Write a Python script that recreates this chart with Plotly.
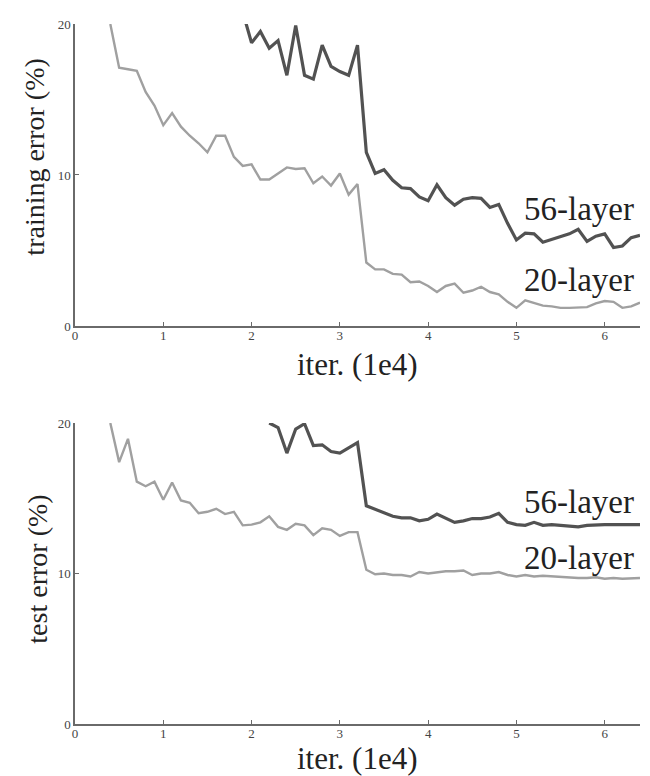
import plotly.graph_objects as go

# ---------------- data ----------------
# iterations (x 1e4)
iters_20 = [0.4, 0.5, 0.6, 0.7, 0.8, 0.9, 1.0, 1.1, 1.2, 1.3, 1.4, 1.5, 1.6, 1.7, 1.8, 1.9,
            2.0, 2.1, 2.2, 2.3, 2.4, 2.5, 2.6, 2.7, 2.8, 2.9, 3.0, 3.1, 3.2, 3.3, 3.4, 3.5,
            3.6, 3.7, 3.8, 3.9, 4.0, 4.1, 4.2, 4.3, 4.4, 4.5, 4.6, 4.7, 4.8, 4.9, 5.0, 5.1,
            5.2, 5.3, 5.4, 5.5, 5.6, 5.7, 5.8, 5.9, 6.0, 6.1, 6.2, 6.3, 6.4]

iters_56_train = [1.9, 2.0, 2.1, 2.2, 2.3, 2.4, 2.5, 2.6, 2.7, 2.8, 2.9, 3.0, 3.1, 3.2, 3.3,
                  3.4, 3.5, 3.6, 3.7, 3.8, 3.9, 4.0, 4.1, 4.2, 4.3, 4.4, 4.5, 4.6, 4.7, 4.8,
                  4.9, 5.0, 5.1, 5.2, 5.3, 5.4, 5.5, 5.6, 5.7, 5.8, 5.9, 6.0, 6.1, 6.2, 6.3, 6.4]

iters_56_test = [2.2, 2.3, 2.4, 2.5, 2.6, 2.7, 2.8, 2.9, 3.0, 3.1, 3.2, 3.3, 3.4, 3.5, 3.6,
                 3.7, 3.8, 3.9, 4.0, 4.1, 4.2, 4.3, 4.4, 4.5, 4.6, 4.7, 4.8, 4.9, 5.0, 5.1,
                 5.2, 5.3, 5.4, 5.5, 5.6, 5.7, 5.8, 5.9, 6.0, 6.1, 6.2, 6.3, 6.4]

# training error (%)
train_20 = [20.0, 17.1, 17.0, 16.9, 15.5, 14.6, 13.3, 14.1, 13.2, 12.6, 12.1, 11.5, 12.6, 12.6,
            11.2, 10.6, 10.7, 9.7, 9.7, 10.1, 10.5, 10.4, 10.45, 9.45, 9.9, 9.3, 10.1, 8.7,
            9.4, 4.2, 3.75, 3.75, 3.45, 3.4, 2.9, 2.95, 2.65, 2.25, 2.65, 2.8, 2.2, 2.35, 2.6,
            2.25, 2.1, 1.6, 1.2, 1.7, 1.5, 1.35, 1.3, 1.2, 1.2, 1.2, 1.25, 1.5, 1.65, 1.6,
            1.2, 1.3, 1.55]

train_56 = [20.8, 18.75, 19.5, 18.4, 18.9, 16.6, 19.9, 16.6, 16.35, 18.6, 17.2, 16.85, 16.6,
            18.6, 11.5, 10.1, 10.35, 9.65, 9.15, 9.1, 8.55, 8.3, 9.35, 8.5, 8.0, 8.4, 8.5,
            8.45, 7.85, 8.05, 6.8, 5.7, 6.15, 6.1, 5.55, 5.75, 5.9, 6.1, 6.4, 5.6, 5.95, 6.1,
            5.2, 5.3, 5.85, 6.0]

# test error (%)
test_20 = [20.0, 17.4, 18.95, 16.1, 15.8, 16.1, 14.9, 16.05, 14.85, 14.7, 14.0, 14.1, 14.3,
           13.95, 14.1, 13.2, 13.25, 13.4, 13.8, 13.1, 12.9, 13.3, 13.2, 12.55, 13.0, 12.9,
           12.5, 12.75, 12.75, 10.25, 9.95, 10.0, 9.9, 9.9, 9.8, 10.1, 10.0, 10.1, 10.15,
           10.15, 10.2, 9.9, 10.0, 10.0, 10.1, 9.9, 9.8, 9.9, 9.8, 9.85, 9.8, 9.75, 9.75,
           9.7, 9.7, 9.75, 9.65, 9.7, 9.65, 9.7, 9.7]

test_56 = [20.0, 19.7, 18.0, 19.6, 19.95, 18.5, 18.55, 18.1, 18.0, 18.35, 18.7, 14.5, 14.25,
           14.0, 13.8, 13.7, 13.7, 13.5, 13.6, 13.95, 13.7, 13.4, 13.5, 13.65, 13.65, 13.75,
           14.0, 13.4, 13.25, 13.2, 13.4, 13.2, 13.25, 13.2, 13.15, 13.1, 13.2, 13.25, 13.25,
           13.25, 13.25, 13.25, 13.25]

x_ticks = [0, 1, 2, 3, 4, 5, 6]
y_ticks = [0, 10, 20]
series_labels = ["56-layer", "20-layer"]

# ---------------- styling ----------------
SERIF = "Liberation Serif"
C56 = "#525252"
C20 = "#a0a0a0"
AX = "#6a6a6a"

fig = go.Figure()
fig.add_trace(go.Scatter(x=iters_20, y=train_20, mode="lines", line=dict(color=C20, width=2.4),
                         xaxis="x", yaxis="y", showlegend=False))
fig.add_trace(go.Scatter(x=iters_56_train, y=train_56, mode="lines", line=dict(color=C56, width=3.2),
                         xaxis="x", yaxis="y", showlegend=False))
fig.add_trace(go.Scatter(x=iters_20, y=test_20, mode="lines", line=dict(color=C20, width=2.4),
                         xaxis="x2", yaxis="y2", showlegend=False))
fig.add_trace(go.Scatter(x=iters_56_test, y=test_56, mode="lines", line=dict(color=C56, width=3.2),
                         xaxis="x2", yaxis="y2", showlegend=False))

xa = dict(range=[0, 6.4], tickvals=x_ticks, showline=True, linecolor=AX, linewidth=1.5,
          ticks="inside", ticklen=4, tickcolor=AX, tickwidth=1, showgrid=False, zeroline=False,
          ticklabelstandoff=-3,
          tickfont=dict(family=SERIF, size=13, color="#444"))
ya = dict(range=[0, 20], tickvals=y_ticks, showline=True, linecolor=AX, linewidth=1.5,
          ticks="inside", ticklen=4, tickcolor=AX, tickwidth=1, showgrid=False, zeroline=False,
          tickfont=dict(family=SERIF, size=13, color="#444"))

TOP = [0.5686, 1.0]
BOT = [0.0, 0.43]

# the page body has an 8px margin, so the figure is sized/offset to compensate
fig.update_layout(
    width=642, height=768,
    margin=dict(l=67, r=10, t=9, b=52),
    paper_bgcolor="white", plot_bgcolor="white",
    xaxis=dict(xa, domain=[0, 1], anchor="y"),
    yaxis=dict(ya, domain=TOP, anchor="x"),
    xaxis2=dict(xa, domain=[0, 1], anchor="y2"),
    yaxis2=dict(ya, domain=BOT, anchor="x2"),
)

tfont = dict(family=SERIF, size=33, color="#222")
xfont = dict(family=SERIF, size=31, color="#222")
yfont = dict(family=SERIF, size=28, color="#222")
ann = [
    dict(text=series_labels[0], x=0.993, y=0.7355, xanchor="right", yanchor="middle", font=tfont),
    dict(text=series_labels[1], x=0.993, y=0.6337, xanchor="right", yanchor="middle", font=tfont),
    dict(text=series_labels[0], x=0.993, y=0.3168, xanchor="right", yanchor="middle", font=tfont),
    dict(text=series_labels[1], x=0.993, y=0.2376, xanchor="right", yanchor="middle", font=tfont),
    dict(text="iter. (1e4)", x=0.5, y=0.5135, xanchor="center", yanchor="middle", font=xfont),
    dict(text="iter. (1e4)", x=0.5, y=-0.0495, xanchor="center", yanchor="middle", font=xfont),
    dict(text="training error (%)", x=-0.0708, y=0.8105, textangle=-90,
         xanchor="center", yanchor="middle", font=yfont),
    dict(text="test error (%)", x=-0.067, y=0.2207, textangle=-90,
         xanchor="center", yanchor="middle", font=yfont),
]
for a in ann:
    a.update(xref="paper", yref="paper", showarrow=False)
fig.update_layout(annotations=ann)

fig.write_html("out.html")
